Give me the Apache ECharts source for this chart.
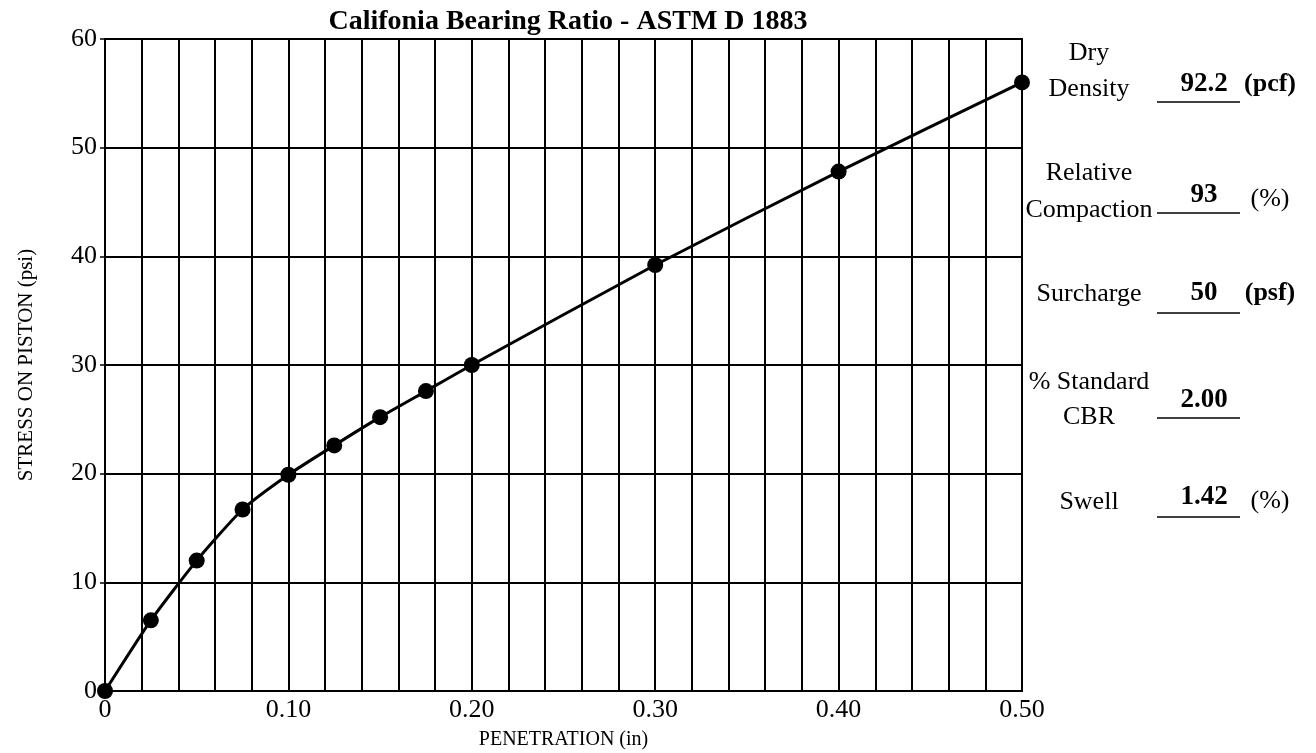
<!DOCTYPE html>
<html>
<head>
<meta charset="utf-8">
<script src="https://cdn.jsdelivr.net/npm/echarts@6/dist/echarts.min.js"></script>
<style>
  html, body { margin: 0; padding: 0; background: #fff; }
  #echart { width: 1316px; height: 753px; }
</style>
</head>
<body>
<div id="echart"></div>
<script>
// penetration (in) vs stress on piston (psi)
var penetration = [0, 0.025, 0.05, 0.075, 0.1, 0.125, 0.15, 0.175, 0.2, 0.3, 0.4, 0.5];
var stress = [0, 6.5, 12.0, 16.7, 19.9, 22.6, 25.2, 27.6, 30.0, 39.2, 47.8, 56.0];

// right hand side summary
var infoLabels = [['Dry', 'Density'], ['Relative', 'Compaction'], ['Surcharge'], ['% Standard', 'CBR'], ['Swell']];
var infoValues = ['92.2', '93', '50', '2.00', '1.42'];
var infoUnits = ['(pcf)', '(%)', '(psf)', '', '(%)'];

var serif = '"Liberation Serif", "Times New Roman", serif';

var myChart = echarts.init(document.getElementById('echart'));

var pts = penetration.map(function (x, i) { return [x, stress[i]]; });

// label block positions
var rowPos = [
  { lines: [{ t: 0, x: 1089, y: 53 }, { t: 1, x: 1089, y: 89 }], vy: 84, uy: 102, unitBold: true },
  { lines: [{ t: 0, x: 1089, y: 173 }, { t: 1, x: 1089, y: 210 }], vy: 195, uy: 213, unitBold: false },
  { lines: [{ t: 0, x: 1089, y: 294 }], vy: 293, uy: 313, unitBold: true },
  { lines: [{ t: 0, x: 1089, y: 382 }, { t: 1, x: 1089, y: 417 }], vy: 400, uy: 418, unitBold: false },
  { lines: [{ t: 0, x: 1089, y: 502 }], vy: 497, uy: 517, unitBold: false }
];

var graphics = [];
rowPos.forEach(function (r, i) {
  r.lines.forEach(function (l) {
    graphics.push({
      type: 'text', x: l.x, y: l.y,
      style: { text: infoLabels[i][l.t], font: '26px ' + serif, fill: '#000', align: 'center', verticalAlign: 'middle' }
    });
  });
  graphics.push({
    type: 'text', x: 1204, y: r.vy,
    style: { text: infoValues[i], font: 'bold 27px ' + serif, fill: '#000', align: 'center', verticalAlign: 'middle' }
  });
  graphics.push({
    type: 'line', shape: { x1: 1157, y1: r.uy, x2: 1240, y2: r.uy },
    style: { stroke: '#000', lineWidth: 1.5 }
  });
  if (infoUnits[i]) {
    graphics.push({
      type: 'text', x: 1270, y: (i === 1 || i === 4) ? r.vy + 4 : r.vy,
      style: { text: infoUnits[i], font: (r.unitBold ? 'bold ' : '') + '26px ' + serif, fill: '#000', align: 'center', verticalAlign: 'middle' }
    });
  }
});

var option = {
  backgroundColor: '#fff',
  animation: false,
  title: {
    text: 'Califonia Bearing Ratio - ASTM D 1883',
    left: 563,
    top: 3,
    textAlign: 'center',
    textStyle: { fontFamily: serif, fontWeight: 'bold', fontSize: 28, color: '#000' }
  },
  grid: {
    left: 105,
    right: 294,
    top: 39,
    bottom: 62,
    outerBoundsMode: 'none',
    containLabel: false,
    show: true,
    borderColor: '#000',
    borderWidth: 2
  },
  xAxis: {
    type: 'value',
    min: 0,
    max: 0.5,
    interval: 0.02,
    name: 'PENETRATION (in)',
    nameLocation: 'middle',
    nameGap: 39,
    nameTextStyle: { fontFamily: serif, fontSize: 20, color: '#000' },
    axisLine: { show: true, lineStyle: { color: '#000', width: 2 } },
    axisTick: { show: false },
    splitLine: { show: true, lineStyle: { color: '#000', width: 2 } },
    axisLabel: {
      margin: 6,
      fontFamily: serif,
      fontSize: 26,
      color: '#000',
      formatter: function (v) {
        var n = Math.round(v * 100);
        if (n % 10 !== 0) return '';
        return n === 0 ? '0' : (n / 100).toFixed(2);
      }
    }
  },
  yAxis: {
    type: 'value',
    min: 0,
    max: 60,
    interval: 10,
    name: 'STRESS ON PISTON (psi)',
    nameLocation: 'middle',
    nameGap: 68,
    nameTextStyle: { fontFamily: serif, fontSize: 21, color: '#000' },
    axisLine: { show: true, lineStyle: { color: '#000', width: 2 } },
    axisTick: { show: true, length: 5, lineStyle: { color: '#000', width: 1.5 } },
    splitLine: { show: true, lineStyle: { color: '#000', width: 2 } },
    axisLabel: { margin: 8, fontFamily: serif, fontSize: 26, color: '#000' }
  },
  series: [
    {
      type: 'line',
      data: pts,
      smooth: 0.2,
      symbol: 'circle',
      symbolSize: 16,
      itemStyle: { color: '#000' },
      lineStyle: { color: '#000', width: 3 },
      clip: false
    }
  ],
  graphic: graphics
};
myChart.setOption(option);
</script>
</body>
</html>
